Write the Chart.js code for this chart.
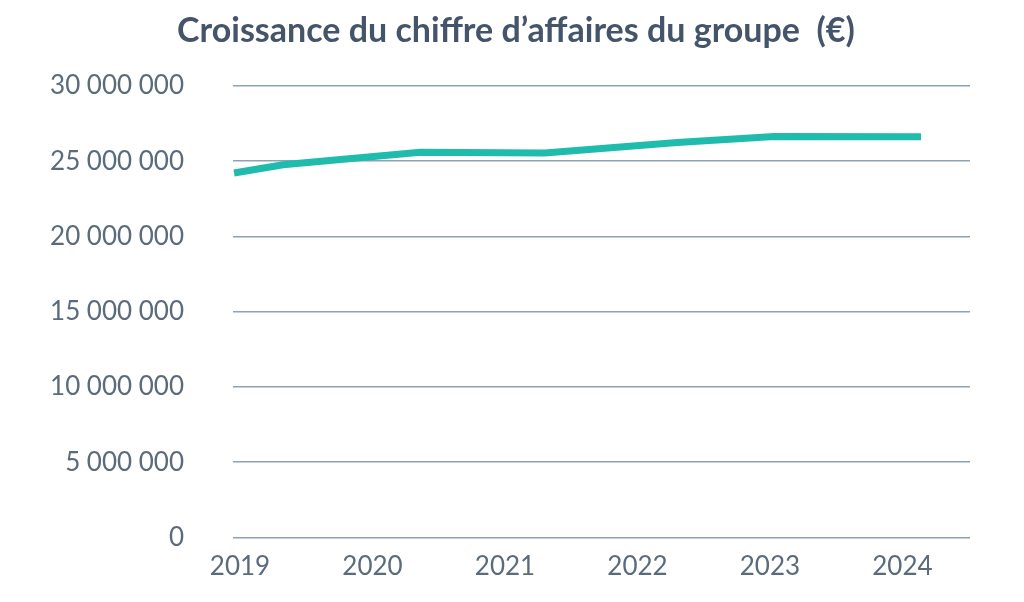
<!DOCTYPE html>
<html>
<head>
<meta charset="utf-8">
<script src="https://cdn.jsdelivr.net/npm/chart.js@4/dist/chart.umd.min.js"></script>
<style>
  html, body { margin: 0; padding: 0; background: #fff; }
  .chart { width: 1024px; height: 602px; }
</style>
</head>
<body>
<div class="chart"><canvas id="ca" width="1024" height="602"></canvas></div>
<script>
// tick labels on the x axis
const years = [2019, 2020, 2021, 2022, 2023, 2024];
// where each point of the line sits, in years
const pointYears = [2018.955, 2019.325, 2020.36, 2021.30, 2022.30, 2023.03, 2024.14];
// chiffre d'affaires (€)
const revenue = [24220000, 24770000, 25600000, 25540000, 26250000, 26640000, 26620000];

const titleText = 'Croissance du chiffre d\u2019affaires du groupe  (\u20ac)';

const fmt = (v) => String(v).replace(/\B(?=(\d{3})+(?!\d))/g, ' ');

// the built-in title centres on the padded box, so draw it by hand
const titlePlugin = {
  id: 'centredTitle',
  afterDraw(chart) {
    const c = chart.ctx;
    c.save();
    c.font = 'bold 34px Lato';
    c.fillStyle = '#44546a';
    c.textAlign = 'center';
    c.textBaseline = 'middle';
    c.fillText(titleText, 516, 31);
    c.restore();
  },
};

const ctx = document.getElementById('ca').getContext('2d');
new Chart(ctx, {
  type: 'line',
  data: {
    datasets: [
      {
        label: 'CA',
        data: pointYears.map((x, i) => ({ x: x, y: revenue[i] })),
        borderColor: '#1fbcad',
        backgroundColor: '#1fbcad',
        borderWidth: 7,
        pointRadius: 0,
        tension: 0,
      },
    ],
  },
  plugins: [titlePlugin],
  options: {
    responsive: false,
    animation: false,
    layout: { padding: { left: 0, right: 54, top: 86, bottom: 0 } },
    plugins: {
      legend: { display: false },
      tooltip: { enabled: false },
      title: { display: false },
    },
    scales: {
      x: {
        type: 'linear',
        min: 2018.947,
        max: 2024.51,
        afterBuildTicks: (s) => { s.ticks = years.map((y) => ({ value: y })); },
        afterFit: (s) => { s.height = 63.5; },
        grid: { display: false, drawTicks: false },
        border: { display: false },
        ticks: {
          color: '#5b6b7b',
          font: { family: 'Lato', size: 26 },
          padding: 14,
          maxRotation: 0,
          autoSkip: false,
          callback: (v) => String(v),
        },
      },
      y: {
        min: 0,
        max: 30000000,
        afterFit: (s) => { s.width = 233; },
        grid: { color: '#8fa2b4', lineWidth: 1.5, drawTicks: false },
        border: { display: false },
        ticks: {
          stepSize: 5000000,
          color: '#5b6b7b',
          font: { family: 'Lato', size: 26 },
          padding: 49,
          callback: (v) => fmt(v),
        },
      },
    },
  },
});
</script>
</body>
</html>
